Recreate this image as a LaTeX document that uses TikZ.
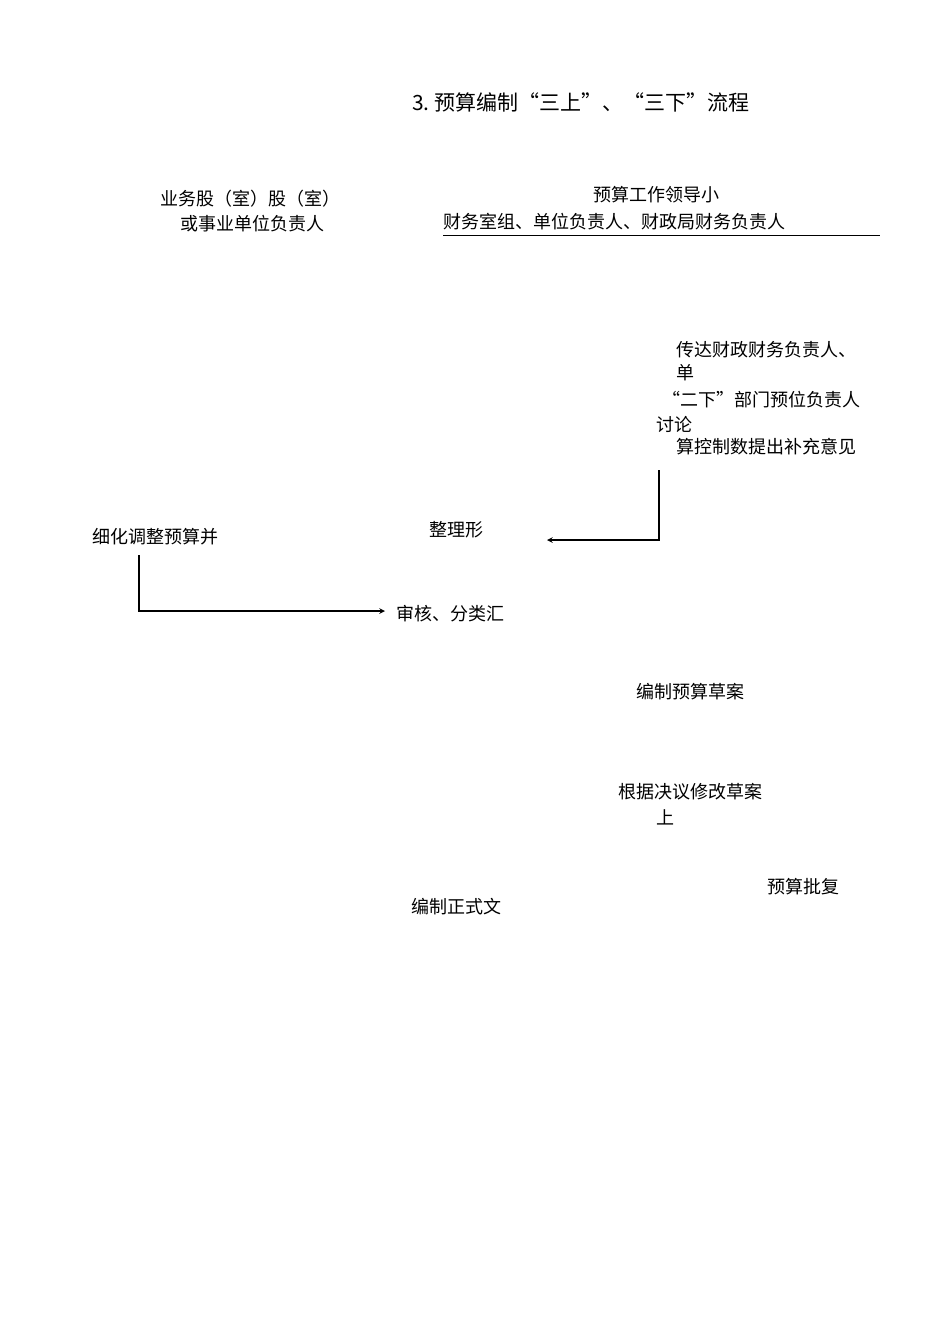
\documentclass[tikz,border=0pt]{standalone}
\usepackage{fontspec}
\setmainfont{Noto Sans CJK SC}
\begin{document}
\begin{tikzpicture}[x=1pt,y=-1pt,
  txt/.style={inner sep=0pt,font=\fontsize{18}{20}\selectfont},
  ttl/.style={inner sep=0pt,font=\fontsize{21}{24}\selectfont},
  arr/.style={->,>=stealth,line width=1.5pt}]
\useasboundingbox[fill=white] (0,0) rectangle (950,1344);
\node[ttl,anchor=west] (title) at (412,102) {3.\ 预算编制“三上”、“三下”流程};
\node[txt] (a1) at (250,199) {业务股（室）股（室）};
\node[txt] (a2) at (252,224) {或事业单位负责人};
\node[txt] (b1) at (656,195) {预算工作领导小};
\node[txt,anchor=west] (b2) at (443,222) {财务室组、单位负责人、财政局财务负责人};
\coordinate (u1) at (443,235); \coordinate (u2) at (880,235);
\draw[line width=0.6pt] (u1) -- (u2);
\node[txt,anchor=west] (c1) at (676,350) {传达财政财务负责人、};
\node[txt,anchor=west] (c2) at (676,373) {单};
\node[txt,anchor=west] (c3) at (662,400) {“二下”部门预位负责人};
\node[txt,anchor=west] (c4) at (656,424) {讨论};
\node[txt,anchor=west] (c5) at (676,447) {算控制数提出补充意见};
\coordinate (p1) at (659,470); \coordinate (p2) at (659,540); \coordinate (p3) at (547,540);
\draw[arr] (p1) -- (p2) -- (p3);
\node[txt] (d1) at (456,530) {整理形};
\node[txt,anchor=west] (d2) at (92,537) {细化调整预算并};
\coordinate (q1) at (139,555); \coordinate (q2) at (139,611); \coordinate (q3) at (385,611);
\draw[arr] (q1) -- (q2) -- (q3);
\node[txt,anchor=west] (e1) at (396,614) {审核、分类汇};
\node[txt] (f1) at (690,692) {编制预算草案};
\node[txt] (g1) at (690,792) {根据决议修改草案};
\node[txt] (g2) at (665,817) {上};
\node[txt] (h1) at (803,887) {预算批复};
\node[txt] (h2) at (456,907) {编制正式文};
\end{tikzpicture}
\end{document}
